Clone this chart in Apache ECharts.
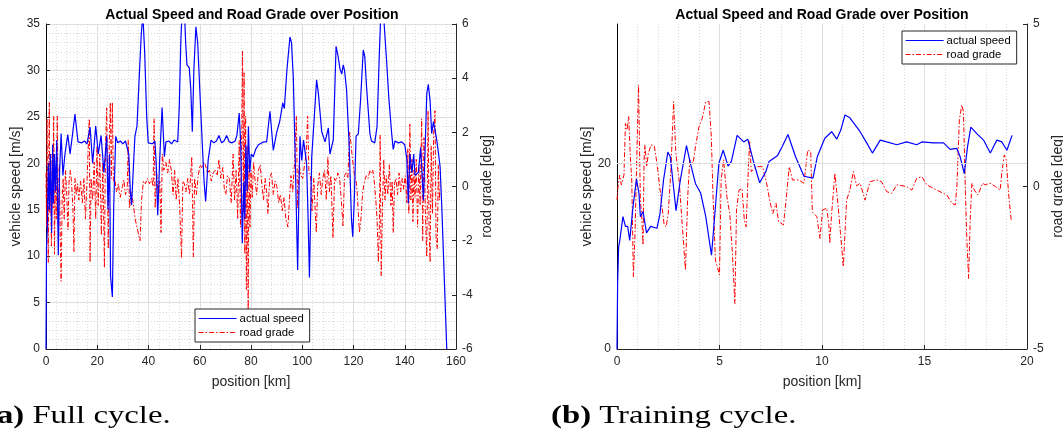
<!DOCTYPE html>
<html>
<head>
<meta charset="utf-8">
<title>Actual Speed and Road Grade over Position</title>
<script src="https://cdn.jsdelivr.net/npm/echarts@6/dist/echarts.min.js"></script>
<style>
  html, body { margin: 0; padding: 0; background: #ffffff; }
  #chart { width: 1063px; height: 439px; }
</style>
</head>
<body>
<div id="chart"></div>
<script>
// Full cycle: vehicle speed [m/s] against position [km]
const fullSpeed = [
  [0,0],[0.2,11],[0.5,13],[0.9,20],[1.3,15],[1.7,21],[2.2,12.5],[2.6,22],[2.9,15.7],[3.3,21],[3.7,17],[4.2,22.5],
  [4.8,10.1],[5.3,19],[5.9,23.2],[6.6,18.7],[7.4,21],[8.5,23.1],[9.4,21],[10.3,23],[11.3,25.3],[12.0,23.5],[12.5,22.3],
  [14,22.2],[15,22.4],[16,22.1],[17.2,23.9],[18.2,20],[19.4,24],[20.4,21],[21.5,23],[22.6,19],[23.7,23],[24.2,15],
  [24.8,21],[25.2,7.8],[25.9,5.6],[26.4,15],[27.2,22.9],[28,22.2],[29,22.4],[30,22.1],[31,22.4],[31.6,22.2],[32.3,21],
  [32.9,17],[33.4,15.5],[34,19],[34.7,22.9],[35.5,24],[36.5,30],[37.2,34],[37.8,36],[38.5,32],[39.3,25],[39.9,22.2],
  [40.3,22.4],[41.5,22.1],[42.5,22.4],[43,20],[43.6,14.4],[44.3,20],[45.3,26],[46.2,20.7],[46.8,22.3],[48,22.4],
  [49,22.1],[50,22.5],[51.4,22.3],[52,26],[52.6,33],[53.2,37],[53.8,38],[54.5,33],[55,30.6],[55.9,30.3],[56.5,28],
  [57.1,23.4],[57.7,30],[58.5,34.7],[59.2,33],[60,28],[61,22],[61.7,18],[62.3,15.9],[63.3,20.4],[64.4,22.5],[65.5,22.2],
  [66.5,22.4],[67.5,23],[68.5,22.2],[69.5,22.4],[70.5,23],[71.5,22.3],[72.5,22.2],[73.8,22.4],[74.5,23],[75.4,25.4],
  [76,22],[76.6,11.4],[77.2,18],[77.6,14],[78,22],[78.5,17],[79,24],[79.5,19],[80.1,21],[80.9,20.7],[81.8,21.5],
  [82.9,22],[84.8,22.3],[86.1,22.3],[87.4,25.6],[88.7,21.4],[90,23.3],[91.2,24.5],[92.4,26.5],[93,25.9],[94,30],
  [95.2,33.6],[95.8,33],[96.5,29.3],[97.3,20],[98.2,8.5],[99.1,22.9],[99.8,20.3],[100.5,22.5],[101.1,22.3],[101.7,20],
  [102.3,14],[102.8,7.7],[103.7,20.7],[104.7,25],[105.6,29],[106.3,27.5],[107.6,23.4],[108.9,22.3],[110.2,23.8],
  [110.8,21],[112.1,22.5],[112.6,27],[113.2,32.6],[114,31.5],[114.7,30.2],[115.4,29.6],[116,30.6],[116.5,30],
  [117.3,27.9],[118.3,22],[119.2,14],[119.7,12.1],[120.3,16],[121,22.9],[121.9,23.2],[122.8,27],[123.8,32.2],
  [124.4,31.5],[125.1,28.2],[126.4,23.2],[127,22.4],[128.3,22.2],[129.2,24],[130.1,32],[130.7,36.5],[131.5,37],
  [132.2,34],[132.9,31.1],[133.8,27],[134.9,23.2],[135.5,21.5],[136.2,22.4],[137.5,22.2],[138.8,22.3],[140,22],
  [140.8,20.5],[141.4,15.7],[142,21],[142.8,19],[143.5,21],[144,18.7],[145.3,19],[146.2,21.7],[147.3,16],[148,22],
  [148.6,27.5],[149.2,28.5],[149.9,26.7],[150.5,23.2],[151.2,24.5],[151.8,23.6],[152.5,22.5],[153.2,21],[153.8,19.6],
  [154.5,15],[155.5,7],[156.4,0]
];

// Full cycle: road grade [deg] against position [km]
const fullGrade = [
  [0,0.5],[0.2,-1.5],[0.4,2.5],[0.6,-0.5],[0.9,-2.8],[1.1,1.5],[1.3,3.1],[1.5,-1],[1.8,0.8],[2.1,-2.2],[2.4,1.2],
  [2.7,-0.8],[3.0,2.6],[3.3,-2.5],[3.6,0.5],[4.0,-1.2],[4.4,2.6],[4.8,-1.5],[5.2,0.8],[5.6,-2],[5.9,-3.5],[6.3,-0.5],
  [6.7,0.3],[7.1,-1.2],[7.6,0.6],[8.1,-0.3],[8.6,-1.6],[9.0,0.2],[9.5,0.6],[10,0.1],[10.5,-0.8],[10.9,-2.4],[11.3,0.3],
  [11.8,-0.3],[12.3,0.1],[12.8,-0.5],[13.5,0.2],[14.2,-0.6],[14.8,0.3],[15.4,-1.2],[16,0.2],[16.9,2.5],[17.2,-2.8],
  [17.6,0.3],[18.2,-0.5],[18.8,0.9],[19.4,-1.2],[19.9,1.5],[20.4,-0.7],[21,1.2],[21.6,-1.8],[22.2,0.9],[22.8,-3.0],
  [23.2,1.4],[23.7,2.9],[24.3,-2.3],[24.7,1.6],[25.1,3.1],[25.5,0.3],[25.9,3.1],[26.3,0.2],[26.8,0.3],[27.5,-0.2],
  [28.2,0.1],[29,-0.4],[29.8,0],[30.4,0.24],[31,-0.3],[31.7,-0.1],[32.1,1.7],[32.6,-0.8],[33.2,-0.2],[34,-0.6],
  [34.8,-1.2],[35.5,-1.5],[36.2,-1.8],[36.7,-2.0],[37.3,-0.5],[38,0.2],[38.8,0.1],[39.6,0.3],[40.4,0.1],[41.2,0.3],
  [41.8,0],[42.2,2.5],[42.6,-0.8],[43.2,0.5],[43.8,-0.5],[44.4,0.2],[44.9,-1.7],[45.4,1.2],[46,0.6],[46.8,0.9],
  [47.5,0.5],[48.2,1.0],[48.9,0.6],[49.6,-0.3],[50.2,0.6],[50.8,-0.5],[51.5,0.3],[52.2,-0.8],[52.9,-2.65],[53.4,0.2],
  [54,0.1],[54.6,-0.2],[55.3,0.3],[56,-0.3],[56.9,1.1],[57.5,-2.6],[58,0.3],[58.7,-0.3],[59.4,0.4],[60.1,0.8],
  [60.8,0.7],[61.5,0.9],[62.2,0.8],[63,0.5],[63.8,0.6],[64.5,0.2],[65.2,0.5],[66,0.6],[66.8,0.4],[67.5,1.0],[68.2,0.3],
  [69,0.7],[69.6,-0.1],[70.2,-0.3],[70.8,0.4],[71.5,0.3],[72.3,-0.6],[73,1.2],[73.6,-0.5],[74.2,0.6],[74.8,-1.2],
  [75.4,1.7],[75.9,-1.5],[76.4,2.1],[76.7,5.0],[77.0,-1.0],[77.3,4.2],[77.6,-2.5],[77.9,2.6],[78.2,-3.8],[78.5,1.5],
  [78.9,-4.55],[79.2,0.8],[79.6,-1.5],[80,0.6],[80.5,-0.4],[81,0.9],[81.6,0.2],[82.2,-0.3],[82.9,0.6],[83.6,0.8],
  [84.2,0.1],[84.9,-0.5],[85.5,0.3],[86.1,-0.2],[86.6,-1.0],[87.3,0.3],[88,0.5],[88.7,-0.3],[89.4,0.2],[90.1,0],
  [90.8,-0.6],[91.5,-0.3],[92.2,-0.9],[92.9,-0.4],[93.6,-1.2],[94.4,-1.5],[95,-0.5],[95.6,0.4],[96.3,-0.2],[97,0.9],
  [97.7,2.6],[98.2,-0.8],[98.8,0.8],[99.5,0.4],[100.2,0.3],[100.9,0.8],[101.5,1.2],[102.1,2.6],[102.6,0.5],[103.2,0.4],
  [103.8,-0.9],[104.5,0.3],[105.1,-1.0],[105.5,-1.7],[106,0],[106.7,0.5],[107.4,-0.3],[108,0.3],[108.7,0.6],
  [109.4,-0.5],[110,1.1],[110.6,-0.2],[111.2,0.4],[112,-1.9],[112.6,0.3],[113.2,0.2],[113.9,0.5],[114.6,0.3],
  [115.3,-0.6],[115.9,-1.45],[116.5,0.4],[117.1,0.5],[117.8,0.3],[118.5,2.0],[119,1.6],[119.6,1.0],[120.3,0.5],
  [121.2,0.1],[121.8,-0.8],[122.3,-1.7],[122.9,-1.2],[123.6,-0.2],[124.3,0.2],[125,0.4],[125.7,0.3],[126.4,0.6],
  [127,0.5],[127.5,0.6],[128.1,0.2],[128.7,-0.5],[129.2,-1.2],[129.7,-2.8],[130.1,-1.5],[130.4,1.9],[130.8,-3.3],
  [131.3,-0.8],[131.8,1.0],[132.3,-0.5],[132.8,0.4],[133.4,-0.3],[134,0.8],[134.6,-0.7],[135.1,0.2],[135.5,-1.7],
  [136,0.1],[136.6,0.3],[137.2,-0.3],[137.8,0.5],[138.4,-0.2],[139,0.3],[139.6,-0.1],[140.2,0.4],[140.8,-0.6],
  [141.2,1.4],[141.6,-1.0],[142,2.3],[142.4,-0.5],[142.8,1.0],[143.2,-1.3],[143.6,0.6],[144,-0.4],[144.5,1.0],
  [145,-1.5],[145.5,0.8],[146,-0.7],[146.6,2.5],[147,-2.0],[147.5,1.8],[148,-0.8],[148.6,-2.6],[149.1,2.8],
  [149.5,-1.5],[149.9,-2.8],[150.3,1.5],[150.8,-1.0],[151.3,2.0],[151.8,2.8],[152.2,-1.8],[152.7,-2.3],[153.1,0.8],
  [153.5,-0.5],[153.8,0]
];

// Training cycle: vehicle speed [m/s] against position [km]
const trainSpeed = [
  [0,0],[0.03,7],[0.08,11.0],[0.13,11.6],[0.29,14.25],[0.41,13.2],[0.52,13.2],[0.62,11.7],[0.78,15.3],[0.95,18.3],
  [1.07,16.8],[1.14,14.25],[1.27,14.8],[1.44,12.5],[1.64,13.2],[1.95,13.0],[2.1,14.6],[2.27,18.2],[2.48,21.2],
  [2.6,20.7],[2.88,14.9],[3.09,18.2],[3.39,21.9],[3.58,20],[3.83,17.8],[4.08,16.8],[4.33,14.25],[4.61,10.1],
  [4.8,15.3],[4.97,20],[5.18,21.4],[5.42,19.7],[5.58,20.2],[5.86,23.0],[6.18,22.3],[6.38,22.6],[6.68,20],[6.96,17.9],
  [7.26,19.1],[7.42,20.2],[7.82,20.8],[8.06,21.8],[8.34,23.1],[8.71,20.7],[9.12,18.6],[9.56,18.4],[9.77,20.7],
  [10.06,22.3],[10.14,22.7],[10.47,23.4],[10.72,22.6],[10.92,23.6],[11.12,25.2],[11.36,24.9],[11.86,23.4],
  [12.18,22.2],[12.46,21.1],[12.84,22.5],[13.16,22.3],[13.65,22.0],[14.13,22.3],[14.62,22.0],[14.87,22.3],
  [15.44,22.2],[15.93,22.2],[16.25,21.5],[16.58,21.6],[16.74,20.7],[16.94,18.9],[17.1,21.8],[17.26,23.9],
  [17.55,23.2],[17.88,22.5],[18.21,21.1],[18.53,22.5],[18.77,22.3],[19.02,21.4],[19.27,23]
];

// Training cycle: road grade [deg] against position [km]
const trainGrade = [
  [0,-0.42],[0.05,0],[0.13,0.35],[0.21,0.05],[0.34,0.35],[0.41,1.94],[0.49,1.74],[0.57,2.15],[0.65,0.92],[0.72,0.2],
  [0.8,-2.78],[0.88,-1.44],[0.97,1.02],[1.05,3.12],[1.14,-0.42],[1.2,-0.83],[1.27,-1.8],[1.32,0.82],[1.36,1.28],
  [1.45,0.61],[1.53,1.02],[1.66,1.28],[1.82,1.25],[1.95,0.71],[2.12,-0.21],[2.3,-1.18],[2.4,-1.24],[2.5,-0.83],
  [2.63,0.51],[2.76,2.61],[2.87,1.02],[3.03,0.2],[3.2,-1.34],[3.34,-2.57],[3.45,-0.31],[3.55,0.82],[3.71,0.71],
  [3.83,1.23],[4.0,1.84],[4.16,2.1],[4.33,2.61],[4.49,2.61],[4.6,1.54],[4.68,-0.21],[4.8,-2.26],[5.0,-2.72],[5.08,0.2],
  [5.2,0.82],[5.36,-0.31],[5.5,-0.83],[5.63,-2.06],[5.75,-3.6],[5.83,-0.72],[5.95,-0.11],[6.1,-0.06],[6.21,-1.03],
  [6.3,-1.24],[6.41,0.61],[6.47,1.38],[6.55,0.46],[6.8,0.61],[7.1,0.61],[7.3,0.1],[7.46,-0.47],[7.6,-0.83],
  [7.76,-0.52],[7.88,-1.08],[8.12,-1.18],[8.24,-0.47],[8.4,0.61],[8.56,0.2],[8.87,0.2],[9.12,0.1],[9.3,1.12],
  [9.45,1.07],[9.53,-0.78],[9.75,-0.93],[9.9,-1.6],[10.03,-0.72],[10.23,-0.67],[10.33,-1.14],[10.38,-1.75],
  [10.47,-0.83],[10.63,0.41],[10.79,-0.62],[11.04,-2.47],[11.2,-0.42],[11.36,-0.11],[11.53,0.46],[11.69,0.02],
  [11.86,0.1],[12.1,-0.42],[12.34,0.15],[12.67,0.2],[12.9,0.15],[13.16,-0.16],[13.4,-0.21],[13.65,0.05],[14.13,0],
  [14.38,-0.11],[14.62,0.25],[14.87,0.3],[15.11,0.05],[15.44,-0.06],[15.76,-0.16],[16.09,-0.26],[16.34,-0.52],
  [16.5,-0.57],[16.58,-0.02],[16.7,2.05],[16.82,2.51],[16.9,2.3],[16.98,0.2],[17.06,-1.54],[17.15,-2.83],
  [17.23,-1.03],[17.31,0.1],[17.43,-0.11],[17.6,-0.26],[17.84,0.1],[17.96,0.05],[18.2,0.1],[18.45,0],[18.69,-0.11],
  [18.77,0.41],[18.89,0.97],[18.99,0.82],[19.1,-0.21],[19.23,-1.03]
];

// Axis ranges and tick steps
const fullXRange = [0, 160, 20];
const fullSpeedRange = [0, 35, 5];
const fullGradeRange = [-6, 6, 2];
const trainXRange = [0, 20, 5];
const trainSpeedRange = [0, 35, 5];
const trainSpeedLabels = [0, 20];
const trainGradeRange = [-5, 5, 5];

const titleText = 'Actual Speed and Road Grade over Position';
const speedName = 'actual speed';
const gradeName = 'road grade';
const captionA = ['(a)', ' Full cycle.'];
const captionB = ['(b)', ' Training cycle.'];

const AXIS = '#262626';
const GRID_MAJOR = '#dedede';
const GRID_MINOR = '#d9d9d9';
const FONT = 'Liberation Sans, Arial, Helvetica, sans-serif';
const SERIF = 'Liberation Serif, Times New Roman, serif';
const BLUE = '#0000ff';
const RED = '#ff0000';
const DASHDOT = [5, 2, 1.5, 2];

function xAxis(gridIndex, range, minorSplit) {
  return {
    type: 'value', gridIndex, min: range[0], max: range[1], interval: range[2],
    name: 'position [km]', nameLocation: 'middle', nameGap: 26,
    nameTextStyle: { fontFamily: FONT, fontSize: 14, color: AXIS },
    axisLine: { show: true, onZero: false, lineStyle: { color: AXIS, width: 1 } },
    axisTick: { show: true, inside: true, length: 4, lineStyle: { color: AXIS } },
    axisLabel: { fontFamily: FONT, fontSize: 12, color: AXIS, margin: 7 },
    splitLine: { show: true, lineStyle: { color: GRID_MAJOR, width: 1 } },
    minorTick: { show: false, splitNumber: minorSplit },
    minorSplitLine: { show: true, lineStyle: { color: GRID_MINOR, type: [1, 2], width: 1 } }
  };
}

function speedAxis(gridIndex, range) {
  return {
    type: 'value', gridIndex, position: 'left', min: range[0], max: range[1], interval: range[2],
    name: 'vehicle speed [m/s]', nameLocation: 'middle', nameGap: 22, nameRotate: 90,
    nameTextStyle: { fontFamily: FONT, fontSize: 14, color: AXIS },
    axisLine: { show: true, onZero: false, lineStyle: { color: '#000000', width: 1 } },
    axisTick: { show: true, inside: true, length: 4, lineStyle: { color: AXIS } },
    axisLabel: { fontFamily: FONT, fontSize: 12, color: AXIS, margin: 6 },
    splitLine: { show: true, lineStyle: { color: GRID_MAJOR, width: 1 } },
    minorTick: { show: false, splitNumber: 5 },
    minorSplitLine: { show: true, lineStyle: { color: GRID_MINOR, type: [1, 2], width: 1 } }
  };
}

function gradeAxis(gridIndex, range) {
  return {
    type: 'value', gridIndex, position: 'right', min: range[0], max: range[1], interval: range[2],
    name: 'road grade [deg]', nameLocation: 'middle', nameGap: 24, nameRotate: 90,
    nameTextStyle: { fontFamily: FONT, fontSize: 14, color: AXIS },
    axisLine: { show: true, onZero: false, lineStyle: { color: AXIS, width: 1 } },
    axisTick: { show: true, inside: true, length: 4, lineStyle: { color: AXIS } },
    axisLabel: { fontFamily: FONT, fontSize: 12, color: AXIS, margin: 6 },
    splitLine: { show: false }
  };
}

function lineSeries(name, data, xi, yi, color, dash, width) {
  return {
    name, type: 'line', data, xAxisIndex: xi, yAxisIndex: yi,
    symbol: 'none', clip: true, animation: false, silent: true,
    lineStyle: { color, width, type: dash },
    itemStyle: { color }
  };
}

function legend(left, top) {
  return {
    orient: 'vertical', left, top,
    padding: [4, 6, 4, 3], itemGap: 3, itemWidth: 38, itemHeight: 11,
    backgroundColor: '#ffffff', borderColor: AXIS, borderWidth: 1,
    itemStyle: { opacity: 0 },
    lineStyle: { width: 1.2 },
    textStyle: { fontFamily: FONT, fontSize: 11.3, color: '#000000', padding: [0, 0, 0, -2] },
    data: [speedName, gradeName], selectedMode: false
  };
}

function caption(parts, x) {
  return {
    type: 'text', x, y: 416, scaleX: 1.26, scaleY: 1, silent: true,
    style: {
      text: '{b|' + parts[0] + '}{r|' + parts[1] + '}',
      font: '26px ' + SERIF, fill: '#000000', align: 'left', verticalAlign: 'middle',
      rich: {
        b: { fontFamily: SERIF, fontSize: 26, fontWeight: 'bold', fill: '#000000' },
        r: { fontFamily: SERIF, fontSize: 26, fontWeight: 'normal', fill: '#000000' }
      }
    }
  };
}

function chartTitle(x) {
  return {
    type: 'text', x, y: 15, silent: true,
    style: { text: titleText, font: 'bold 14px ' + FONT, fill: '#000000', align: 'center', verticalAlign: 'middle' }
  };
}

const trainSpeedAxis = speedAxis(1, trainSpeedRange);
trainSpeedAxis.axisLabel = {
  fontFamily: FONT, fontSize: 12, color: AXIS, margin: 6,
  formatter: v => (trainSpeedLabels.indexOf(v) >= 0 ? String(v) : '')
};
trainSpeedAxis.axisTick = { show: true, inside: true, length: 4, lineStyle: { color: AXIS }, customValues: trainSpeedLabels };
trainSpeedAxis.splitLine = { show: true, lineStyle: { color: GRID_MINOR, type: [1, 2], width: 1 } };
trainSpeedAxis.minorSplitLine = { show: false };

// the solid major grid line of the training-cycle speed axis
const trainSpeedSeries = lineSeries(speedName, trainSpeed, 1, 2, BLUE, 'solid', 1.2);
trainSpeedSeries.markLine = {
  silent: true, symbol: 'none', label: { show: false }, animation: false,
  lineStyle: { color: GRID_MAJOR, type: 'solid', width: 1 },
  data: [{ yAxis: trainSpeedLabels[1] }]
};

const option = {
  backgroundColor: '#ffffff',
  animation: false,
  grid: [
    { left: 46, right: 607, top: 24, bottom: 90, containLabel: false, outerBoundsMode: 'none' },
    { left: 617, right: 36, top: 24, bottom: 90, containLabel: false, outerBoundsMode: 'none' }
  ],
  xAxis: [ xAxis(0, fullXRange, 5), xAxis(1, trainXRange, 5) ],
  yAxis: [
    speedAxis(0, fullSpeedRange),
    gradeAxis(0, fullGradeRange),
    trainSpeedAxis,
    gradeAxis(1, trainGradeRange)
  ],
  legend: [ legend(195, 309), legend(902, 31) ],
  series: [
    lineSeries(gradeName, fullGrade, 0, 1, RED, DASHDOT, 1),
    lineSeries(speedName, fullSpeed, 0, 0, BLUE, 'solid', 1.2),
    lineSeries(gradeName, trainGrade, 1, 3, RED, DASHDOT, 1),
    trainSpeedSeries
  ],
  graphic: [
    chartTitle(252),
    chartTitle(822),
    caption(captionA, -14),
    caption(captionB, 551)
  ]
};

const chart = echarts.init(document.getElementById('chart'), null, { renderer: 'canvas' });
chart.setOption(option);
</script>
</body>
</html>
